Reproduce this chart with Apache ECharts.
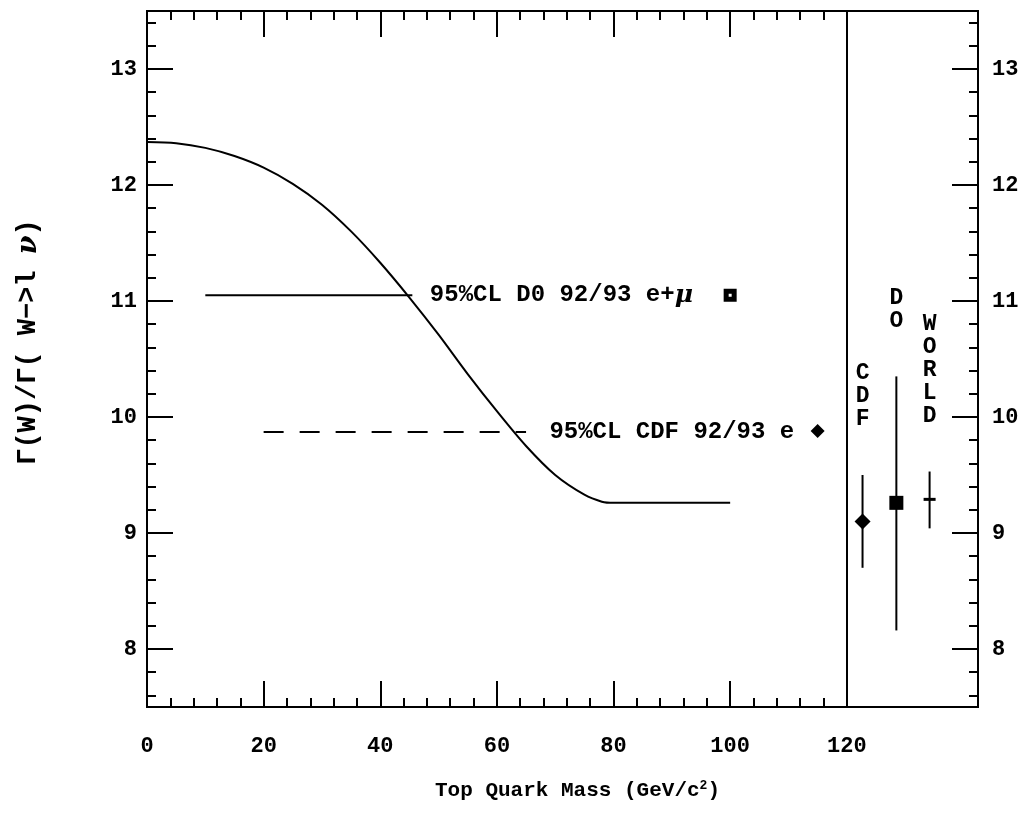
<!DOCTYPE html>
<html>
<head>
<meta charset="utf-8">
<script src="https://cdn.jsdelivr.net/npm/echarts@6/dist/echarts.min.js"></script>
<style>html,body{margin:0;padding:0;background:#fff}#c{width:1026px;height:821px}</style>
</head>
<body>
<div id="c"></div>
<script>
// ---- data ----
const curveX = [0, 5, 10, 15, 20, 25, 30, 35, 40, 45, 50, 55, 60, 65, 70, 75, 78, 80, 85, 90, 95, 100];
const curveY = [12.37, 12.36, 12.32, 12.25, 12.15, 12.01, 11.83, 11.60, 11.33, 11.03, 10.71, 10.37, 10.05, 9.75, 9.50, 9.33, 9.27, 9.26, 9.26, 9.26, 9.26, 9.26];
const d0LimitX = [10, 45.5];
const d0LimitY = 11.05;
const cdfLimitX = [20, 65];
const cdfLimitY = 9.87;
const d0Marker = [100, 11.05];
const cdfMarker = [115, 9.88];
const d0Text = '95%CL D0 92/93 e+';
const cdfText = '95%CL CDF 92/93 e';
const d0TextPos = [48.5, 11.05];
const cdfTextPos = [69, 9.87];
const measLabels = ['CDF', 'DO', 'WORLD'];
const measX = [122.7, 128.5, 134.2];
const measY = [9.10, 9.26, 9.29];
const measLo = [8.70, 8.16, 9.04];
const measHi = [9.50, 10.35, 9.53];
const measShape = ['diamond', 'rect', 'cross'];
const divider = 120;
const xMajor = [0, 20, 40, 60, 80, 100, 120];
const xMinor = [4, 8, 12, 16, 24, 28, 32, 36, 44, 48, 52, 56, 64, 68, 72, 76, 84, 88, 92, 96, 104, 108, 112, 116];
const yMajor = [8, 9, 10, 11, 12, 13];
const yMinor = [7.6, 7.8, 8.2, 8.4, 8.6, 8.8, 9.2, 9.4, 9.6, 9.8, 10.2, 10.4, 10.6, 10.8, 11.2, 11.4, 11.6, 11.8, 12.2, 12.4, 12.6, 12.8, 13.2, 13.4];
const XMIN = 0, XMAX = 142.5, YMIN = 7.5, YMAX = 13.5;

// ---- chart ----
const FONT = 'Liberation Mono';
const W = 'bold';
const black = '#000';
const chart = echarts.init(document.getElementById('c'));

function xAx(pos, vals, len, showLabel, extra) {
  return Object.assign({
    type: 'value', position: pos, min: XMIN, max: XMAX,
    axisLine: {show: true, onZero: false, lineStyle: {color: black, width: 2}},
    axisTick: {show: true, inside: true, length: len, customValues: vals, lineStyle: {color: black, width: 2}},
    axisLabel: {show: showLabel, customValues: vals, margin: 28, color: black, fontFamily: FONT, fontWeight: W, fontSize: 22},
    splitLine: {show: false}
  }, extra || {});
}
function yAx(pos, vals, len, showLabel, extra) {
  return Object.assign({
    type: 'value', position: pos, min: YMIN, max: YMAX,
    axisLine: {show: true, onZero: false, lineStyle: {color: black, width: 2}},
    axisTick: {show: true, inside: true, length: len, customValues: vals, lineStyle: {color: black, width: 2}},
    axisLabel: {show: showLabel, customValues: vals, margin: pos === 'left' ? 10 : 14, color: black, fontFamily: FONT, fontWeight: W, fontSize: 22},
    splitLine: {show: false}
  }, extra || {});
}

const option = {
  backgroundColor: '#fff',
  animation: false,
  grid: {left: 147, right: 48, top: 11, bottom: 114, containLabel: false},
  xAxis: [
    xAx('bottom', xMajor, 26, true, {
      name: 'Top Quark Mass (GeV/c{sup|2})', nameLocation: 'middle', nameGap: 72,
      nameTextStyle: {color: black, fontFamily: FONT, fontWeight: W, fontSize: 21, padding: [0, 0, 0, 30],
        rich: {sup: {fontFamily: FONT, fontWeight: W, fontSize: 13, verticalAlign: 'top', padding: [0, 0, 10, 0], color: black}}}
    }),
    xAx('bottom', xMinor, 9, false),
    xAx('top', xMajor.filter(v => v < divider), 26, false),
    xAx('top', xMinor, 9, false)
  ],
  yAxis: [
    yAx('left', yMajor, 26, true, {
      name: 'Γ(W)/Γ( W−>l {i|ν})', nameLocation: 'middle', nameGap: 105, nameRotate: 90,
      nameTextStyle: {color: black, fontFamily: FONT, fontWeight: W, fontSize: 27, padding: [0, 0, 0, 34],
        rich: {i: {fontFamily: 'DejaVu Serif', fontStyle: 'italic', fontSize: 27, color: black}}}
    }),
    yAx('left', yMinor, 9, false),
    yAx('right', yMajor, 26, true),
    yAx('right', yMinor, 9, false)
  ],
  series: [
    {
      type: 'line', name: 'prediction', smooth: 0.3, symbol: 'none',
      data: curveX.map((x, i) => [x, curveY[i]]),
      lineStyle: {color: black, width: 2},
      markLine: {
        silent: true, symbol: 'none', label: {show: false},
        lineStyle: {color: black, width: 2, type: 'solid'},
        data: [{xAxis: divider}]
      }
    },
    {
      type: 'line', name: 'D0 limit', symbol: 'none',
      data: d0LimitX.map(x => [x, d0LimitY]),
      lineStyle: {color: black, width: 2}
    },
    {
      type: 'line', name: 'CDF limit', symbol: 'none',
      data: cdfLimitX.map(x => [x, cdfLimitY]),
      lineStyle: {color: black, width: 2, type: [20, 16]}
    },
    {
      type: 'scatter', name: 'D0 marker', symbol: 'rect', symbolSize: 8,
      data: [d0Marker], itemStyle: {color: '#fff', borderColor: black, borderWidth: 5, opacity: 1}
    },
    {
      type: 'scatter', name: 'CDF marker', symbol: 'diamond', symbolSize: 14,
      data: [cdfMarker], itemStyle: {color: black, opacity: 1}
    },
    {
      type: 'scatter', name: 'annotations', symbolSize: 0, silent: true,
      itemStyle: {opacity: 1},
      data: [
        {value: d0TextPos, label: {formatter: d0Text + '{i|μ}'}},
        {value: cdfTextPos, label: {formatter: cdfText}}
      ],
      label: {
        show: true, position: 'right', distance: 0, color: black, opacity: 1, fontFamily: FONT, fontWeight: W, fontSize: 24,
        rich: {i: {fontFamily: 'DejaVu Serif', fontStyle: 'italic', fontSize: 25, color: black}}
      }
    },
    {
      type: 'custom', name: 'measurements',
      data: measX.map((x, i) => [x, measY[i], measLo[i], measHi[i]]),
      renderItem: function (params, api) {
        const i = params.dataIndex;
        const x = api.value(0), y = api.value(1), lo = api.value(2), hi = api.value(3);
        const pLo = api.coord([x, lo]), pHi = api.coord([x, hi]), p = api.coord([x, y]);
        const children = [
          {type: 'line', shape: {x1: pLo[0], y1: pLo[1], x2: pHi[0], y2: pHi[1]}, style: {stroke: black, lineWidth: 2}}
        ];
        const shp = measShape[i];
        if (shp === 'diamond') {
          const s = 8;
          children.push({type: 'polygon', shape: {points: [[p[0], p[1] - s], [p[0] + s, p[1]], [p[0], p[1] + s], [p[0] - s, p[1]]]}, style: {fill: black}});
        } else if (shp === 'rect') {
          const s = 7;
          children.push({type: 'rect', shape: {x: p[0] - s, y: p[1] - s, width: 2 * s, height: 2 * s}, style: {fill: black}});
        } else {
          children.push({type: 'line', shape: {x1: p[0] - 6, y1: p[1], x2: p[0] + 6, y2: p[1]}, style: {stroke: black, lineWidth: 3}});
        }
        children.push({
          type: 'text', x: pHi[0], y: pHi[1] - 44,
          style: {text: measLabels[i].split('').join('\n'), fill: black, font: 'bold 23px "' + FONT + '"',
            textAlign: 'center', textVerticalAlign: 'bottom', lineHeight: 23}
        });
        return {type: 'group', children: children};
      }
    }
  ]
};
chart.setOption(option);
</script>
</body>
</html>
